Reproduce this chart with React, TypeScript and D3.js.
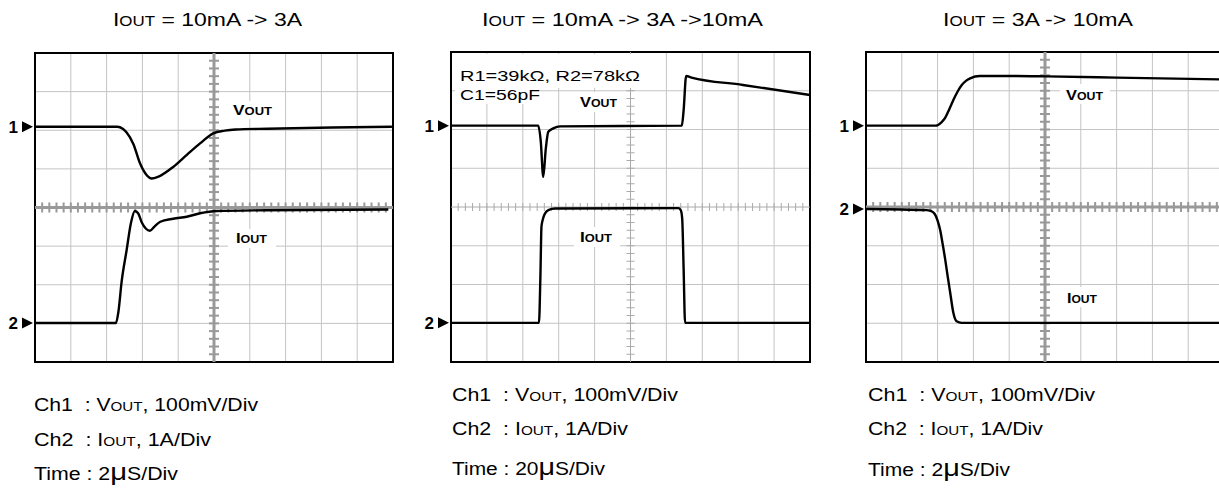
import React from "react";
import * as d3 from "d3";

type Pt = [number, number];

// traces: [time in divisions (0..10), level in divisions from top of screen (0..8)]
const vout1: Pt[] = [
  [0, 1.91], [2.3, 1.91], [2.45, 1.96], [2.56, 2.06], [2.75, 2.36], [2.93, 2.85],
  [3.1, 3.14], [3.26, 3.25], [3.45, 3.2], [3.86, 2.95], [4.25, 2.63], [4.61, 2.34],
  [4.98, 2.08], [5.3, 2.01], [5.6, 1.98], [6.5, 1.96], [8.3, 1.93], [9.97, 1.91],
];
const iout1: Pt[] = [
  [0, 6.99], [2.26, 6.99], [2.33, 6.7], [2.42, 5.92], [2.56, 5.1], [2.68, 4.4],
  [2.79, 4.09], [2.88, 4.15], [2.98, 4.38], [3.1, 4.55], [3.21, 4.6], [3.35, 4.48],
  [3.5, 4.37], [3.86, 4.29], [4.24, 4.24], [4.61, 4.15], [5.08, 4.09], [6.47, 4.07],
  [9.87, 4.05],
];
const vout2: Pt[] = [
  [0, 1.9], [2.43, 1.9], [2.5, 2.3], [2.57, 3.22], [2.64, 2.5], [2.71, 2.06],
  [2.85, 1.97], [3.04, 1.92], [6.43, 1.9], [6.48, 1.5], [6.55, 0.62], [6.7, 0.66],
  [8.13, 0.85], [10, 1.11],
];
const iout2: Pt[] = [
  [0, 6.99], [2.45, 6.99], [2.49, 5.8], [2.52, 4.51], [2.55, 4.35], [2.6, 4.2],
  [2.71, 4.08], [2.9, 4.04], [6.33, 4.03], [6.4, 4.08], [6.44, 4.3], [6.48, 5.6],
  [6.52, 6.99], [10, 6.99],
];
const vout3: Pt[] = [
  [0, 1.9], [1.95, 1.9], [2.1, 1.82], [2.21, 1.7], [2.33, 1.47], [2.44, 1.24],
  [2.56, 1.02], [2.67, 0.86], [2.8, 0.74], [2.91, 0.68], [3.18, 0.62], [4, 0.62],
  [5.05, 0.63], [7, 0.66], [10, 0.71],
];
const iout3: Pt[] = [
  [0, 4.05], [1.69, 4.08], [1.8, 4.1], [1.92, 4.18], [2.0, 4.35], [2.07, 4.59],
  [2.14, 4.95], [2.21, 5.34], [2.28, 5.78], [2.35, 6.2], [2.44, 6.73], [2.53, 6.95],
  [2.67, 6.99], [10, 6.99],
];

const titles = ["10mA -> 3A", "10mA -> 3A ->10mA", "3A -> 10mA"];
const timeBase = ["2", "20", "2"];
const ch1Level = [1.91, 1.9, 1.9];
const ch2Level = [6.99, 6.99, 4.05];
const noteLines = ["R1=39k\u03A9, R2=78k\u03A9", "C1=56pF"];

const FONT = "'Liberation Sans', Arial, Helvetica, sans-serif";
const GRID = "#c4c4c4";

type Txt = { x: number; y: number; len: number };
type Box = { x: number; y: number; w: number; h: number };

const layout = [
  {
    x: 35, y: 53, w: 358, h: 309, heavy: true,
    title: { x: 113, y: 26, len: 189 },
    ch1: { x: 34, y: 411, len: 224 }, ch2: { x: 34, y: 446, len: 177 }, time: { x: 34, y: 480, len: 144 },
    vLab: { x: 233, y: 115, len: 39 }, iLab: { x: 236, y: 243, len: 31 },
    boxes: [{ x: 228, y: 101, w: 48, h: 18 }, { x: 228, y: 229, w: 48, h: 19 }],
  },
  {
    x: 451, y: 52, w: 359, h: 310, heavy: false,
    title: { x: 482, y: 26, len: 281 },
    ch1: { x: 452, y: 401, len: 226 }, ch2: { x: 452, y: 435, len: 176 }, time: { x: 452, y: 475, len: 153 },
    vLab: { x: 580, y: 107, len: 37 }, iLab: { x: 580, y: 242, len: 32 },
    boxes: [
      { x: 455, y: 54, w: 188, h: 34 }, { x: 455, y: 86, w: 85, h: 18 },
      { x: 574, y: 92, w: 50, h: 20 }, { x: 574, y: 227, w: 46, h: 20 },
    ],
    note: [{ x: 460, y: 81, len: 180 }, { x: 460, y: 100, len: 80 }],
  },
  {
    x: 866, y: 52, w: 358, h: 310, heavy: true,
    title: { x: 943, y: 26, len: 190 },
    ch1: { x: 868, y: 401, len: 227 }, ch2: { x: 868, y: 435, len: 175 }, time: { x: 868, y: 476, len: 142 },
    vLab: { x: 1066, y: 100, len: 37 }, iLab: { x: 1067, y: 303, len: 30 },
    boxes: [{ x: 1060, y: 84, w: 50, h: 20 }, { x: 1060, y: 287, w: 46, h: 20 }],
  },
];

const traces: [Pt[], Pt[]][] = [[vout1, iout1], [vout2, iout2], [vout3, iout3]];

const Sub: React.FC<{ t: string; size: number }> = ({ t, size }) => (
  <tspan fontSize={size}>{t}</tspan>
);

const Scope: React.FC<{ idx: number }> = ({ idx }) => {
  const L = layout[idx];
  const x = d3.scaleLinear().domain([0, 10]).range([L.x, L.x + L.w]);
  const y = d3.scaleLinear().domain([0, 8]).range([L.y, L.y + L.h]);
  const line = d3
    .line<Pt>()
    .x((d) => x(d[0]))
    .y((d) => y(d[1]))
    .curve(d3.curveMonotoneX);

  const axisColor = L.heavy ? "#999" : "#aaa";
  const axisW = L.heavy ? 3 : 1;
  const tickLen = L.heavy ? 5 : 4;
  const tickW = L.heavy ? 2 : 1;
  const minor = d3.range(1, 50).map((i) => i / 5);
  const minorY = d3.range(1, 40).map((i) => i / 5);

  const t = L.title;
  return (
    <g>
      <text x={t.x} y={t.y} fontSize={19} textLength={t.len} lengthAdjust="spacingAndGlyphs" style={{ whiteSpace: "pre" }}>
        I<Sub t="OUT" size={14} />{" = " + titles[idx]}
      </text>

      {/* grid */}
      {d3.range(1, 10).filter((i) => i !== 5).map((i) => (
        <line key={"v" + i} x1={x(i)} x2={x(i)} y1={y(0)} y2={y(8)} stroke={GRID} strokeWidth={1} />
      ))}
      {d3.range(1, 8).filter((j) => j !== 4).map((j) => (
        <line key={"h" + j} x1={x(0)} x2={x(10)} y1={y(j)} y2={y(j)} stroke={GRID} strokeWidth={1} />
      ))}

      {/* frame */}
      <rect x={L.x} y={L.y} width={L.w} height={L.h} fill="none" stroke="#000" strokeWidth={2} />

      {/* centre axes with minor ticks */}
      <line x1={x(5)} x2={x(5)} y1={y(0)} y2={y(8)} stroke={axisColor} strokeWidth={axisW} />
      <line x1={x(0)} x2={x(10)} y1={y(4)} y2={y(4)} stroke={axisColor} strokeWidth={axisW} />
      {minorY.map((v) => (
        <line key={"ty" + v} x1={x(5) - tickLen} x2={x(5) + tickLen} y1={y(v)} y2={y(v)} stroke={axisColor} strokeWidth={tickW} />
      ))}
      {minor.map((v) => (
        <line key={"tx" + v} x1={x(v)} x2={x(v)} y1={y(4) - tickLen} y2={y(4) + tickLen} stroke={axisColor} strokeWidth={tickW} />
      ))}

      {/* label backgrounds */}
      {(L.boxes as Box[]).map((b, i) => (
        <rect key={"b" + i} x={b.x} y={b.y} width={b.w} height={b.h} fill="#fff" />
      ))}

      {/* traces */}
      {traces[idx].map((tr, i) => (
        <path key={"p" + i} d={line(tr) || ""} fill="none" stroke="#000" strokeWidth={2.4} strokeLinejoin="round" />
      ))}

      {/* channel markers */}
      {[ch1Level[idx], ch2Level[idx]].map((lv, i) => (
        <g key={"m" + i}>
          <text x={L.x - 17} y={y(lv) + 6} fontSize={17} fontWeight="bold" textAnchor="end">{String(i + 1)}</text>
          <path d={`M${L.x - 13},${y(lv) - 5.5}L${L.x - 2},${y(lv)}L${L.x - 13},${y(lv) + 5.5}Z`} fill="#000" />
        </g>
      ))}

      {/* in-plot labels */}
      <text x={L.vLab.x} y={L.vLab.y} fontSize={14} fontWeight="bold" textLength={L.vLab.len} lengthAdjust="spacingAndGlyphs">
        V<Sub t="OUT" size={10.5} />
      </text>
      <text x={L.iLab.x} y={L.iLab.y} fontSize={14} fontWeight="bold" textLength={L.iLab.len} lengthAdjust="spacingAndGlyphs">
        I<Sub t="OUT" size={10.5} />
      </text>
      {L.note &&
        (L.note as Txt[]).map((n, i) => (
          <text key={"n" + i} x={n.x} y={n.y} fontSize={15.5} textLength={n.len} lengthAdjust="spacingAndGlyphs">
            {noteLines[i]}
          </text>
        ))}

      {/* captions */}
      <text x={L.ch1.x} y={L.ch1.y} fontSize={17.5} textLength={L.ch1.len} lengthAdjust="spacingAndGlyphs" style={{ whiteSpace: "pre" }}>
        {"Ch1  : V"}<Sub t="OUT" size={12.5} />{", 100mV/Div"}
      </text>
      <text x={L.ch2.x} y={L.ch2.y} fontSize={17.5} textLength={L.ch2.len} lengthAdjust="spacingAndGlyphs" style={{ whiteSpace: "pre" }}>
        {"Ch2  : I"}<Sub t="OUT" size={12.5} />{", 1A/Div"}
      </text>
      <text x={L.time.x} y={L.time.y} fontSize={17.5} textLength={L.time.len} lengthAdjust="spacingAndGlyphs" style={{ whiteSpace: "pre" }}>
        {"Time : " + timeBase[idx]}<Sub t={"\u03BC"} size={24} />{"S/Div"}
      </text>
    </g>
  );
};

export default function App() {
  return (
    <svg
      width={1219}
      height={491}
      style={{ position: "absolute", left: 0, top: 0, background: "#fff", fontFamily: FONT }}
    >
      {layout.map((_, i) => (
        <Scope key={i} idx={i} />
      ))}
    </svg>
  );
}
